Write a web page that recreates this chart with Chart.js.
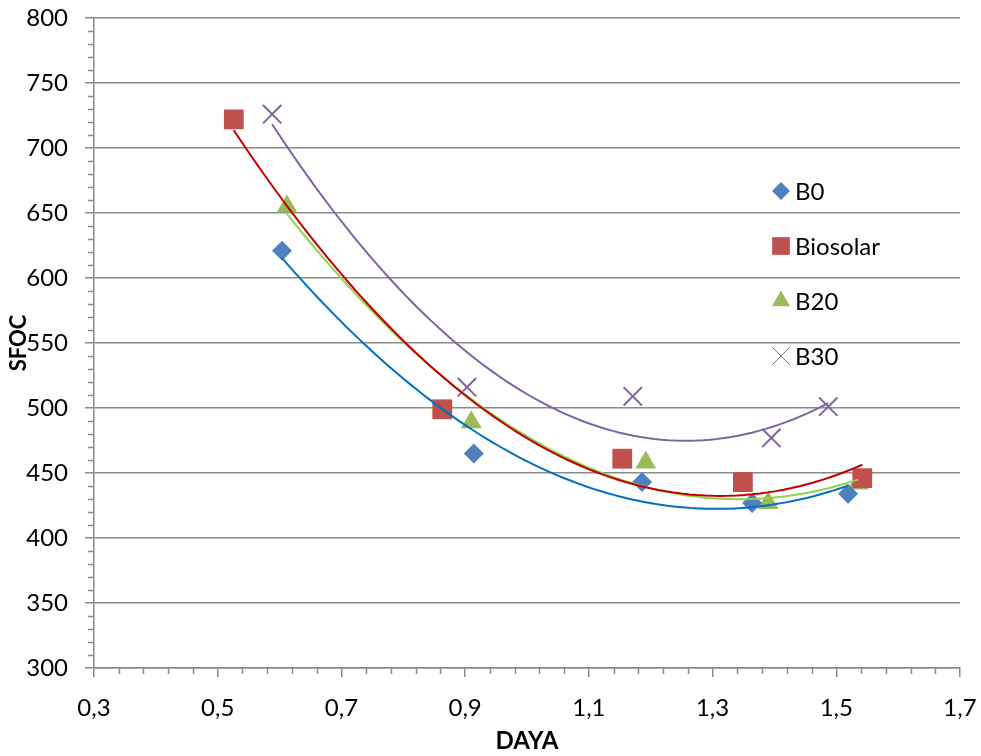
<!DOCTYPE html>
<html>
<head>
<meta charset="utf-8">
<title>SFOC vs Daya</title>
<script src="https://cdn.jsdelivr.net/npm/chart.js@4.4.0/dist/chart.umd.min.js"></script>
<style>
  html, body { margin: 0; padding: 0; background: #fff; }
  #wrap { width: 981px; height: 756px; }
</style>
</head>
<body>
<div id="wrap"><canvas id="chart_sfoc"></canvas></div>
<script>
// Measured points per fuel: DAYA (x) and SFOC (y)
const dayaB0 = [0.604, 0.914, 1.186, 1.364, 1.519];
const sfocB0 = [621, 465, 443, 427, 434];

const dayaBiosolar = [0.526, 0.863, 1.154, 1.349, 1.542];
const sfocBiosolar = [722, 499, 461, 443, 446];

const dayaB20 = [0.612, 0.910, 1.192, 1.390, 1.535];
const sfocB20 = [655, 489, 458, 427, 442];

const dayaB30 = [0.588, 0.903, 1.171, 1.395, 1.487];
const sfocB30 = [726, 516, 509, 477, 501];

const xTicks = { min: 0.3, max: 1.7, step: 0.2, minor: 0.04 };
const yTicks = { min: 300, max: 800, step: 50, minor: 10 };

const GRID = '#8a8a8a';
const FONT = 'Lato, "Open Sans", sans-serif';

// least squares fit of a 2nd order polynomial (same as a spreadsheet trendline)
const polyFit2 = (xs, ys) => {
  let s0 = xs.length, s1 = 0, s2 = 0, s3 = 0, s4 = 0, t0 = 0, t1 = 0, t2 = 0;
  xs.forEach((x, i) => {
    const y = ys[i];
    s1 += x; s2 += x * x; s3 += x * x * x; s4 += x * x * x * x;
    t0 += y; t1 += x * y; t2 += x * x * y;
  });
  const det3 = (m) =>
    m[0][0] * (m[1][1] * m[2][2] - m[1][2] * m[2][1]) -
    m[0][1] * (m[1][0] * m[2][2] - m[1][2] * m[2][0]) +
    m[0][2] * (m[1][0] * m[2][1] - m[1][1] * m[2][0]);
  const A = [[s4, s3, s2], [s3, s2, s1], [s2, s1, s0]];
  const B = [t2, t1, t0];
  const D = det3(A);
  const solve = (col) => det3(A.map((row, r) => row.map((v, c) => (c === col ? B[r] : v)))) / D;
  return [solve(0), solve(1), solve(2)];
};

const trendPoints = (xs, ys) => {
  const [a, b, c] = polyFit2(xs, ys);
  const lo = Math.min(...xs), hi = Math.max(...xs);
  const pts = [];
  const n = 80;
  for (let i = 0; i <= n; i++) {
    const x = lo + (hi - lo) * i / n;
    pts.push({ x, y: a * x * x + b * x + c });
  }
  return pts;
};

const toPoints = (xs, ys) => xs.map((x, i) => ({ x, y: ys[i] }));

const series = [
  { label: 'B0', xs: dayaB0, ys: sfocB0, style: 'rectRot', radius: 10, color: '#4F81BD', line: '#0070C0', legendRadius: 9 },
  { label: 'Biosolar', xs: dayaBiosolar, ys: sfocBiosolar, style: 'rect', radius: 14, color: '#C0504D', line: '#C00000', legendRadius: 12.5 },
  { label: 'B20', xs: dayaB20, ys: sfocB20, style: 'triangle', radius: 12, color: '#9BBB59', line: '#92D050', legendRadius: 10.5 },
  { label: 'B30', xs: dayaB30, ys: sfocB30, style: 'crossRot', radius: 13, color: '#8064A2', line: '#8064A2', legendRadius: 12 }
];

const datasets = [];
series.forEach((s) => {
  datasets.push({
    type: 'scatter',
    label: s.label,
    data: toPoints(s.xs, s.ys),
    pointStyle: s.style,
    pointRadius: s.radius,
    pointHoverRadius: s.radius,
    backgroundColor: s.color,
    borderColor: s.color,
    pointBorderWidth: s.style === 'crossRot' ? 2 : 0,
    order: 1
  });
});
series.forEach((s) => {
  datasets.push({
    type: 'line',
    label: s.label + ' trend',
    data: trendPoints(s.xs, s.ys),
    borderColor: s.line,
    borderWidth: 2,
    pointRadius: 0,
    fill: false,
    tension: 0,
    order: 0
  });
});

// minor tick marks outside the axes
const minorTicks = {
  id: 'minorTicks',
  afterDraw(chart) {
    const { ctx, chartArea, scales } = chart;
    ctx.save();
    ctx.strokeStyle = GRID;
    ctx.lineWidth = 1.5;
    ctx.beginPath();
    for (let v = yTicks.min; v <= yTicks.max + 0.001; v += yTicks.minor) {
      if (Math.abs(v % yTicks.step) < 0.001) continue;
      const y = Math.round(scales.y.getPixelForValue(v)) + 0.5;
      ctx.moveTo(chartArea.left - 6, y);
      ctx.lineTo(chartArea.left, y);
    }
    const nx = Math.round((xTicks.max - xTicks.min) / xTicks.minor);
    const per = Math.round(xTicks.step / xTicks.minor);
    for (let i = 0; i <= nx; i++) {
      if (i % per === 0) continue;
      const x = Math.round(scales.x.getPixelForValue(xTicks.min + i * xTicks.minor)) + 0.5;
      ctx.moveTo(x, chartArea.bottom);
      ctx.lineTo(x, chartArea.bottom + 6);
    }
    ctx.stroke();
    ctx.restore();
  }
};

// legend drawn inside the plot area on the right
const innerLegend = {
  id: 'innerLegend',
  afterDraw(chart, args, opts) {
    const { ctx, chartArea } = chart;
    ctx.save();
    ctx.font = '24px ' + FONT;
    ctx.textBaseline = 'middle';
    series.forEach((s, i) => {
      const mx = chartArea.right - opts.fromRight;
      const my = chartArea.top + opts.firstRow + i * opts.rowGap;
      ctx.fillStyle = s.color;
      ctx.strokeStyle = s.color;
      Chart.helpers.drawPoint(ctx, {
        pointStyle: s.style,
        radius: s.legendRadius,
        rotation: 0,
        borderWidth: s.style === 'crossRot' ? 2 : 0
      }, mx, my);
      ctx.fillStyle = '#000';
      ctx.fillText(s.label, mx + 14, my + 1);
    });
    ctx.restore();
  }
};

const fmtComma = (v) => Number(v).toFixed(1).replace('.', ',');

// fixed axis sizes; label overflow must not push the plot area inward
const fixAxis = (w, h) => (scale) => {
  if (w) scale.width = w;
  if (h) scale.height = h;
  scale.paddingTop = 0;
  scale.paddingBottom = 0;
  scale.paddingLeft = 0;
  scale.paddingRight = 0;
};

new Chart(document.getElementById('chart_sfoc').getContext('2d'), {
  data: { datasets },
  options: {
    responsive: true,
    maintainAspectRatio: false,
    animation: false,
    layout: { padding: { top: 18, right: 21, left: 0, bottom: 0 } },
    scales: {
      x: {
        type: 'linear',
        min: xTicks.min,
        max: xTicks.max,
        afterFit: fixAxis(0, 88),
        ticks: {
          stepSize: xTicks.step,
          padding: 17,
          color: '#000',
          font: { family: FONT, size: 24 },
          callback: (v) => fmtComma(v)
        },
        grid: { drawOnChartArea: false, drawTicks: true, tickLength: 9, color: GRID, lineWidth: 1.5 },
        border: { display: true, color: GRID, width: 1.5 },
        title: { display: true, text: 'DAYA', color: '#000', font: { family: FONT, size: 24, weight: 'bold' }, padding: { top: 0, bottom: 0 } }
      },
      y: {
        type: 'linear',
        min: yTicks.min,
        max: yTicks.max,
        afterFit: fixAxis(94, 0),
        ticks: {
          stepSize: yTicks.step,
          padding: 17,
          color: '#000',
          font: { family: FONT, size: 24 }
        },
        grid: { drawTicks: true, tickLength: 9, color: GRID, lineWidth: 1.5 },
        border: { display: true, color: GRID, width: 1.5 },
        title: { display: true, text: 'SFOC', color: '#000', font: { family: FONT, size: 22, weight: 'bold' }, padding: { top: 6, bottom: 0 } }
      }
    },
    plugins: {
      legend: { display: false },
      tooltip: { enabled: false },
      innerLegend: { fromRight: 179, firstRow: 173, rowGap: 55 }
    }
  },
  plugins: [minorTicks, innerLegend]
});
</script>
</body>
</html>
